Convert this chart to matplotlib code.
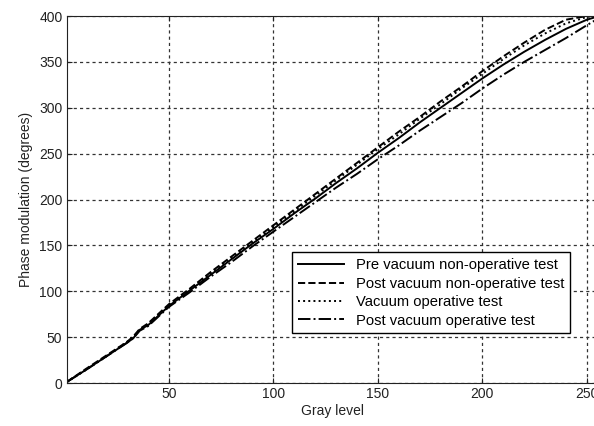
import matplotlib
matplotlib.use("Agg")
import matplotlib.pyplot as plt

plt.rcParams['font.family'] = ['Liberation Sans', 'DejaVu Sans']

gray = [1, 10, 20, 30, 33, 36, 40, 50, 60, 70, 80, 90, 100, 110, 120, 130,
        140, 150, 160, 170, 180, 190, 200, 210, 220, 230, 240, 250, 256]

pre_nonop = [1, 14, 29, 44, 49, 58, 63, 84, 101, 118, 135, 152, 168, 185, 201, 218,
             234, 251, 267, 284, 300, 316, 332, 347, 361, 374, 386, 396, 400]
post_nonop = [1, 15, 30, 45, 51, 59, 65, 86, 103, 121, 138, 155, 172, 189, 206, 223,
              240, 257, 274, 290, 307, 323, 340, 356, 371, 385, 396, 400, 401]
vac_op = [1, 14, 29, 45, 50, 58, 64, 85, 102, 120, 136, 153, 170, 187, 204, 221,
          238, 255, 271, 288, 304, 321, 337, 353, 368, 381, 392, 399, 401]
post_op = [1, 14, 29, 44, 49, 57, 62, 83, 99, 116, 132, 149, 165, 181, 197, 213,
           228, 244, 259, 275, 290, 305, 321, 336, 350, 363, 376, 390, 398]

labels = ["Pre vacuum non-operative test", "Post vacuum non-operative test",
          "Vacuum operative test", "Post vacuum operative test"]

fig = plt.figure(figsize=(5.94, 4.26), dpi=100)
ax = fig.add_axes([0.1121, 0.1009, 0.897, 0.8615])

ax.plot(gray, pre_nonop, '-', color='black', lw=1.4, label=labels[0])
ax.plot(gray, post_nonop, '--', color='black', lw=1.4, label=labels[1])
ax.plot(gray, vac_op, ':', color='black', lw=1.4, label=labels[2])
ax.plot(gray, post_op, '-.', color='black', lw=1.4, label=labels[3])

ax.set_xlim(1, 256)
ax.set_ylim(0, 400)
ax.set_xticks([50, 100, 150, 200, 250])
ax.set_yticks(range(0, 401, 50))
ax.grid(True, linestyle=(0, (2.5, 2.5)), color='#333333', lw=0.9)
ax.tick_params(direction='in', top=True, right=True, labelsize=10,
               colors='#222222', pad=3)
for s in ax.spines.values():
    s.set_color('#222222')

ax.set_xlabel("Gray level", fontsize=10, color='#222222', labelpad=2)
ax.set_ylabel("Phase modulation (degrees)", fontsize=10, color='#222222')

leg = ax.legend(loc='lower left', bbox_to_anchor=(0.41, 0.115), fontsize=10.6,
                handlelength=3.1, labelspacing=0.3, fancybox=False,
                framealpha=1, edgecolor='black', borderpad=0.4)
leg.get_frame().set_linewidth(1.0)

fig.savefig("out.png", dpi=100)
